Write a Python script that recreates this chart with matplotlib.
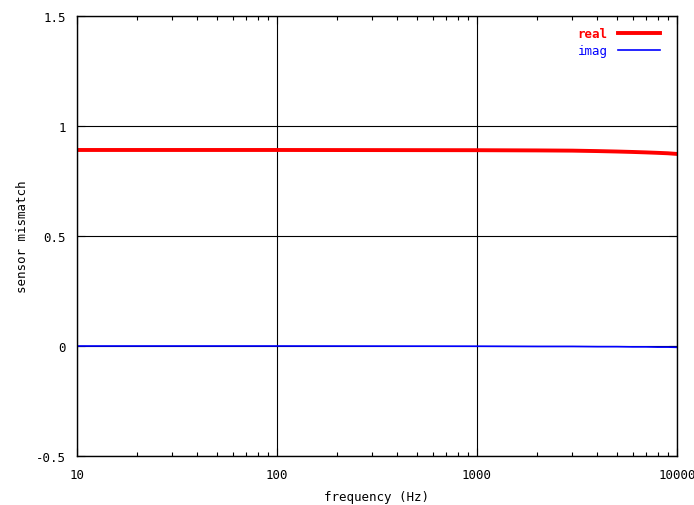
import matplotlib
matplotlib.use("Agg")
import matplotlib.pyplot as plt
from matplotlib.ticker import LogLocator, FixedLocator, NullFormatter, FixedFormatter

freq = [10, 100, 1000, 2000, 3000, 4000, 5000, 6000, 7000, 8000, 9000, 10000]
real = [0.891, 0.891, 0.890, 0.889, 0.888, 0.886, 0.884, 0.882, 0.880, 0.878, 0.876, 0.873]
imag = [0.0, 0.0, -0.001, -0.002, -0.002, -0.003, -0.003, -0.004, -0.004, -0.005, -0.005, -0.006]

xticks = [10, 100, 1000, 10000]
xticklabels = ["10", "100", "1000", "10000"]
yticks = [-0.5, 0, 0.5, 1, 1.5]
yticklabels = ["-0.5", "0", "0.5", "1", "1.5"]

plt.rcParams['font.family'] = ['DejaVu Sans Mono', 'DejaVu Sans']
fig = plt.figure(figsize=(6.94, 5.06), dpi=100)
ax = fig.add_axes([77/694, (506-457)/506, 600/694, 440/506])

ax.plot(freq, real, color='#ff0000', lw=2.8, label='real')
ax.plot(freq, imag, color='#0000ff', lw=1.2, label='imag')

ax.set_xscale('log')
ax.set_xlim(10, 10000)
ax.set_ylim(-0.5, 1.5)
ax.xaxis.set_major_locator(FixedLocator(xticks))
ax.xaxis.set_major_formatter(FixedFormatter(xticklabels))
ax.xaxis.set_minor_locator(LogLocator(base=10, subs=range(2, 10)))
ax.xaxis.set_minor_formatter(NullFormatter())
ax.yaxis.set_major_locator(FixedLocator(yticks))
ax.yaxis.set_major_formatter(FixedFormatter(yticklabels))

ax.grid(True, which='major', color='black', lw=0.8)
ax.tick_params(which='both', direction='in', top=True, right=True, labelsize=9, colors='black')
ax.tick_params(which='major', length=6, width=0.8)
ax.tick_params(axis='x', which='major', pad=9)
ax.tick_params(axis='y', which='major', pad=8)
ax.tick_params(which='minor', length=3, width=0.8)
for s in ax.spines.values():
    s.set_linewidth(1.0)

ax.set_xlabel('frequency (Hz)', fontsize=9, labelpad=6)
ax.set_ylabel('sensor mismatch', fontsize=9, labelpad=5)

leg = ax.legend(loc='upper right', bbox_to_anchor=(661/694 + 0.006, 1 - 23/506), bbox_transform=fig.transFigure,
                frameon=False, markerfirst=False, fontsize=9, handlelength=3.4, handletextpad=0.8,
                labelspacing=0.35, borderaxespad=0.0, borderpad=0.4)
for t, c in zip(leg.get_texts(), ['#ff0000', '#0000ff']):
    t.set_color(c)
leg.get_texts()[0].set_fontweight('bold')

fig.savefig('out.png', dpi=100)
